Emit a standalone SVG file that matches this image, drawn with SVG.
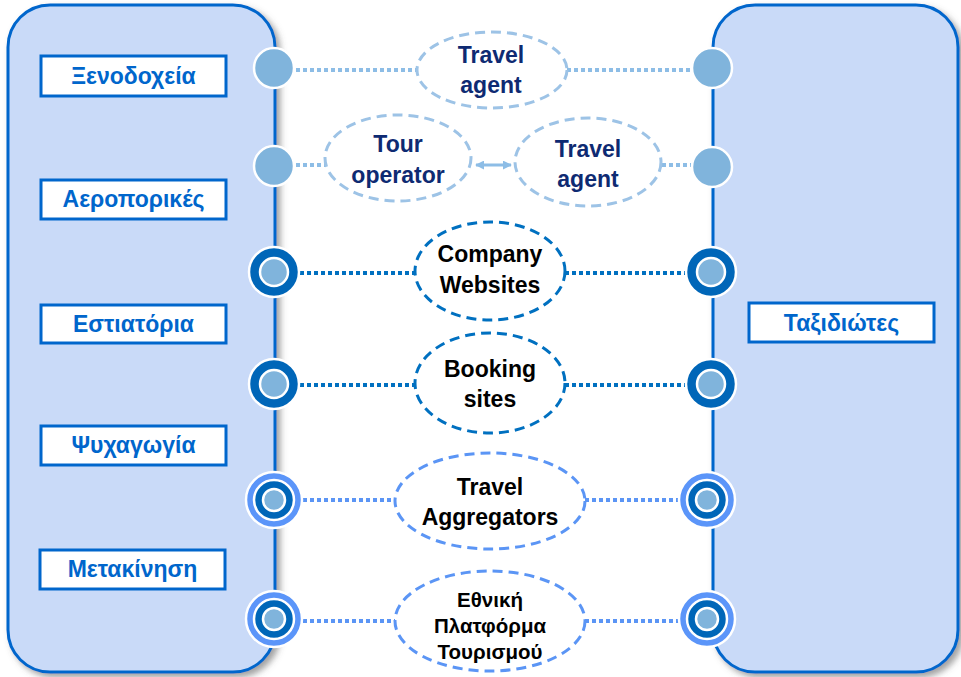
<svg xmlns="http://www.w3.org/2000/svg" width="961" height="677" viewBox="0 0 961 677">
<defs>
<filter id="sh" x="-10%" y="-10%" width="130%" height="130%">
<feDropShadow dx="4" dy="4" stdDeviation="3" flood-color="#555" flood-opacity="0.55"/>
</filter>
<marker id="ah" viewBox="0 0 10 10" refX="9" refY="5" markerWidth="3" markerHeight="3" orient="auto-start-reverse">
<path d="M0,0 L10,5 L0,10 z" fill="#8DBDE6"/>
</marker>
<style>
.panel{fill:#C9DAF8;stroke:#0066CC;stroke-width:3}
.lbl rect{fill:#fff;stroke:#0066CC;stroke-width:3}
.lbl text{font-family:"Liberation Sans",Arial,sans-serif;font-weight:bold;font-size:23px;fill:#0066CC;text-anchor:middle}
.et{font-family:"Liberation Sans",Arial,sans-serif;font-weight:bold;font-size:23px;text-anchor:middle}
.navy{fill:#0E2A72}
.blk{fill:#000}
.e1{fill:#fff;stroke:#9DC3E6;stroke-width:3;stroke-dasharray:10 6}
.e2{fill:#fff;stroke:#0070C0;stroke-width:3;stroke-dasharray:10 6}
.e3{fill:#fff;stroke:#5B95F5;stroke-width:3;stroke-dasharray:10 6}
.c1{fill:#80B4DC;stroke:#fff;stroke-width:2.5}
.c2{fill:#0066B8;stroke:#fff;stroke-width:2.5}
.c3{fill:#5B95F9;stroke:#fff;stroke-width:2.5}
.d1{stroke:#8DBDE6;stroke-width:4;stroke-dasharray:4 3;fill:none}
.d2{stroke:#0070C0;stroke-width:4;stroke-dasharray:4 3;fill:none}
.d3{stroke:#5B95F5;stroke-width:4;stroke-dasharray:4 3;fill:none}
</style>
</defs>
<rect width="961" height="677" fill="#fff"/>

<g id="left-panel">
<rect class="panel" x="8" y="5" width="267" height="667" rx="42" filter="url(#sh)"/>
</g>
<g id="right-panel">
<rect class="panel" x="713" y="5" width="245" height="667" rx="42" filter="url(#sh)"/>
</g>

<g id="connectors">
<line class="d1" x1="296" y1="70" x2="417" y2="70"/>
<line class="d1" x1="567" y1="70" x2="692" y2="70"/>
<line class="d1" x1="296" y1="165" x2="325" y2="165"/>
<line class="d1" x1="662" y1="165" x2="692" y2="165"/>
<line x1="476" y1="165" x2="511" y2="165" stroke="#8DBDE6" stroke-width="3" marker-start="url(#ah)" marker-end="url(#ah)"/>
<line class="d2" x1="300" y1="273" x2="415" y2="273"/>
<line class="d2" x1="565" y1="273" x2="688" y2="273"/>
<line class="d2" x1="300" y1="385" x2="415" y2="385"/>
<line class="d2" x1="565" y1="385" x2="688" y2="385"/>
<line class="d3" x1="303" y1="500" x2="395" y2="500"/>
<line class="d3" x1="585" y1="500" x2="685" y2="500"/>
<line class="d3" x1="303" y1="621" x2="395" y2="621"/>
<line class="d3" x1="585" y1="621" x2="685" y2="621"/>
</g>

<g id="label-xenodocheia" class="lbl"><rect x="41" y="56" width="185" height="40"/><text x="133.5" y="84">Ξενοδοχεία</text></g>
<g id="label-aeroporikes" class="lbl"><rect x="41" y="180" width="185" height="39"/><text x="133.5" y="207">Αεροπορικές</text></g>
<g id="label-estiatoria" class="lbl"><rect x="41" y="305" width="185" height="38"/><text x="133.5" y="332">Εστιατόρια</text></g>
<g id="label-psychagogia" class="lbl"><rect x="41" y="426" width="185" height="39"/><text x="133.5" y="453">Ψυχαγωγία</text></g>
<g id="label-metakinisi" class="lbl"><rect x="40" y="550" width="185" height="39"/><text x="132.5" y="577">Μετακίνηση</text></g>
<g id="label-taxidiotes" class="lbl"><rect x="749" y="303" width="185" height="39"/><text x="841.5" y="331">Ταξιδιώτες</text></g>

<g id="port-l1"><circle class="c1" cx="274" cy="68" r="20"/></g>
<g id="port-l2"><circle class="c1" cx="274" cy="166" r="20"/></g>
<g id="port-l3"><circle class="c2" cx="274" cy="272" r="25"/><circle class="c1" cx="274" cy="272" r="14"/></g>
<g id="port-l4"><circle class="c2" cx="274" cy="384" r="25"/><circle class="c1" cx="274" cy="384" r="14"/></g>
<g id="port-l5"><circle class="c3" cx="274" cy="500" r="28"/><circle class="c2" cx="274" cy="500" r="20"/><circle class="c1" cx="274" cy="500" r="11"/></g>
<g id="port-l6"><circle class="c3" cx="274" cy="619" r="28"/><circle class="c2" cx="274" cy="619" r="20"/><circle class="c1" cx="274" cy="619" r="11"/></g>

<g id="port-r1"><circle class="c1" cx="712" cy="68" r="20"/></g>
<g id="port-r2"><circle class="c1" cx="712" cy="167" r="20"/></g>
<g id="port-r3"><circle class="c2" cx="711" cy="272" r="25"/><circle class="c1" cx="711" cy="272" r="14"/></g>
<g id="port-r4"><circle class="c2" cx="711" cy="384" r="25"/><circle class="c1" cx="711" cy="384" r="14"/></g>
<g id="port-r5"><circle class="c3" cx="707" cy="500" r="28"/><circle class="c2" cx="707" cy="500" r="20"/><circle class="c1" cx="707" cy="500" r="11"/></g>
<g id="port-r6"><circle class="c3" cx="707" cy="619" r="28"/><circle class="c2" cx="707" cy="619" r="20"/><circle class="c1" cx="707" cy="619" r="11"/></g>

<g id="travel-agent-1"><ellipse class="e1" cx="492" cy="70" rx="75" ry="38"/><text class="et navy" x="491" y="63">Travel</text><text class="et navy" x="491" y="93">agent</text></g>
<g id="tour-operator"><ellipse class="e1" cx="398" cy="158" rx="73" ry="43"/><text class="et navy" x="398" y="152">Tour</text><text class="et navy" x="398" y="183">operator</text></g>
<g id="travel-agent-2"><ellipse class="e1" cx="588" cy="162" rx="73" ry="44"/><text class="et navy" x="588" y="157">Travel</text><text class="et navy" x="588" y="187">agent</text></g>
<g id="company-websites"><ellipse class="e2" cx="490" cy="271" rx="75" ry="49"/><text class="et blk" x="490" y="262">Company</text><text class="et blk" x="490" y="293">Websites</text></g>
<g id="booking-sites"><ellipse class="e2" cx="490" cy="383" rx="75" ry="50"/><text class="et blk" x="490" y="377">Booking</text><text class="et blk" x="490" y="407">sites</text></g>
<g id="travel-aggregators"><ellipse class="e3" cx="490" cy="501" rx="95" ry="48"/><text class="et blk" x="490" y="495">Travel</text><text class="et blk" x="490" y="525">Aggregators</text></g>
<g id="ethniki-platforma"><ellipse class="e3" cx="490" cy="621" rx="95" ry="50"/><text class="et blk" x="490" y="607" style="font-size:20.5px">Εθνική</text><text class="et blk" x="490" y="633" style="font-size:20.5px">Πλατφόρμα</text><text class="et blk" x="490" y="659" style="font-size:20.5px">Τουρισμού</text></g>
</svg>
